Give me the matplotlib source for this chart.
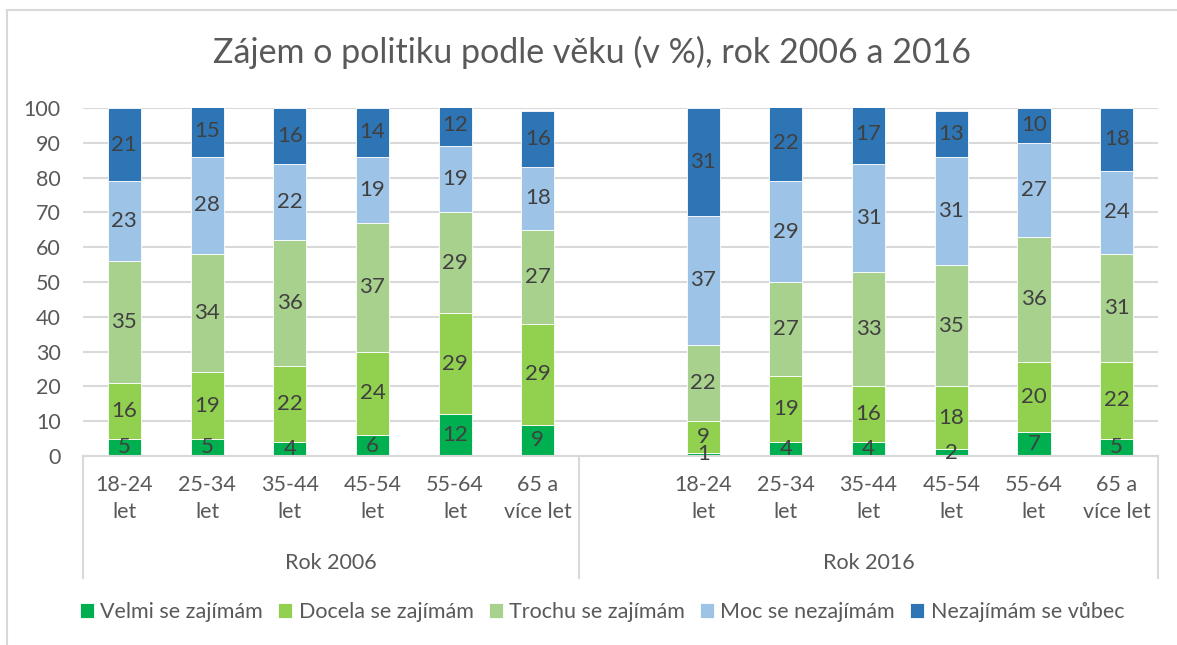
import matplotlib.pyplot as plt
import numpy as np
from matplotlib.patches import Rectangle
from matplotlib.transforms import blended_transform_factory

# ---- data ----
categories = ["18-24\nlet", "25-34\nlet", "35-44\nlet", "45-54\nlet", "55-64\nlet", "65 a\nvíce let"]
groups = ["Rok 2006", "Rok 2016"]
series = ["Velmi se zajímám", "Docela se zajímám", "Trochu se zajímám",
          "Moc se nezajímám", "Nezajímám se vůbec"]
colors = ["#00B050", "#92D050", "#A9D18E", "#9DC3E6", "#2E75B6"]

velmi_2006 = [5, 5, 4, 6, 12, 9]
docela_2006 = [16, 19, 22, 24, 29, 29]
trochu_2006 = [35, 34, 36, 37, 29, 27]
moc_2006 = [23, 28, 22, 19, 19, 18]
vubec_2006 = [21, 15, 16, 14, 12, 16]

velmi_2016 = [1, 4, 4, 2, 7, 5]
docela_2016 = [9, 19, 16, 18, 20, 22]
trochu_2016 = [22, 27, 33, 35, 36, 31]
moc_2016 = [37, 29, 31, 31, 27, 24]
vubec_2016 = [31, 22, 17, 13, 10, 18]

title = "Zájem o politiku podle věku (v %), rok 2006 a 2016"
yticks = [0, 10, 20, 30, 40, 50, 60, 70, 80, 90, 100]

data_2006 = [velmi_2006, docela_2006, trochu_2006, moc_2006, vubec_2006]
data_2016 = [velmi_2016, docela_2016, trochu_2016, moc_2016, vubec_2016]

plt.rcParams['font.family'] = ['Lato', 'DejaVu Sans']
TXT = "#595959"
LBL = "#404040"
GRID = "#D9D9D9"

W, H = 1177, 645
fig = plt.figure(figsize=(W / 100, H / 100), dpi=100)

# chart frame
fig.patches.append(Rectangle((7 / W, -0.1), 1.2, 1 - 10 / H + 0.1, transform=fig.transFigure,
                             fill=False, edgecolor=GRID, linewidth=1.5, zorder=0))

ax = fig.add_axes([83 / W, 1 - 456 / H, (1158 - 83) / W, (456 - 108) / H])

# positions: 2006 group occupies slots 0..5, 2016 group slots 6..12 (slot 6 is empty)
x2006 = np.arange(6)
x2016 = np.arange(7, 13)
bw = 0.40

for xs, data in ((x2006, data_2006), (x2016, data_2016)):
    bottom = np.zeros(len(xs))
    for i, vals in enumerate(data):
        vals = np.array(vals, dtype=float)
        ax.bar(xs, vals, bw, bottom=bottom, color=colors[i], edgecolor='white',
               linewidth=0.6, label=series[i] if xs is x2006 else None, zorder=2)
        for xi, b, v in zip(xs, bottom, vals):
            ax.text(xi, b + v / 2, f"{int(v)}", ha='center', va='center',
                    fontsize=16, color=LBL, zorder=3)
        bottom += vals

ax.set_xlim(-0.5, 12.5)
ax.set_ylim(0, 100)
ax.set_yticks(yticks)
ax.tick_params(axis='y', length=0, labelsize=15.5, labelcolor=TXT, pad=16)
ax.yaxis.grid(True, color=GRID, linewidth=1.5, zorder=0)
ax.set_axisbelow(True)
for s in ['top', 'right', 'left']:
    ax.spines[s].set_visible(False)
ax.spines['bottom'].set_color(GRID)
ax.spines['bottom'].set_linewidth(1.5)

ticks = list(x2006) + list(x2016)
ax.set_xticks(ticks)
ax.set_xticklabels(categories + categories, fontsize=15.5, color=TXT, linespacing=1.4)
ax.tick_params(axis='x', length=0, pad=14)

trans = blended_transform_factory(ax.transData, ax.transAxes)
ylow = -(578 - 456) / (456 - 108)
for xb in (-0.5, 5.5, 12.5):
    ax.plot([xb, xb], [0, ylow], transform=trans, color=GRID, linewidth=1.5, clip_on=False)

ygrp = -(563 - 456) / (456 - 108)
ax.text(2.5, ygrp, groups[0], transform=trans, ha='center', va='center', fontsize=15.5, color=TXT)
ax.text(9.0, ygrp, groups[1], transform=trans, ha='center', va='center', fontsize=15.5, color=TXT)

fig.text(592 / W, 1 - 52 / H, title, ha='center', va='center', fontsize=24.5, color=TXT)

handles, labels = ax.get_legend_handles_labels()
fig.legend(handles, labels, loc='center', bbox_to_anchor=(602 / W, 1 - 612 / H), ncol=5,
           frameon=False, fontsize=15.5, labelcolor=TXT, handlelength=0.65, handleheight=0.65,
           handletextpad=0.3, columnspacing=0.7, borderaxespad=0)

fig.savefig("out.png", dpi=100)
